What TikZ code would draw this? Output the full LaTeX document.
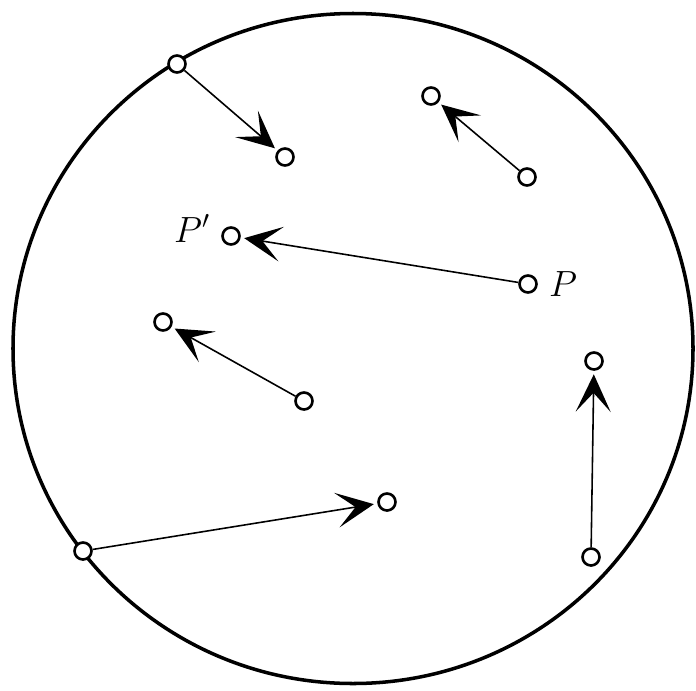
\documentclass[tikz,border=0pt]{standalone}
\usepackage{tikz}
\usetikzlibrary{arrows.meta, positioning}

\begin{document}
\begin{tikzpicture}[
  x=0.02cm, y=-0.02cm,
  pt/.style    = {circle, draw, line width=1.5pt, fill=white,
                  inner sep=0pt, minimum size=0.34cm},
  flow/.style  = {-{Stealth[length=7.5mm, width=7mm, inset=3.8mm]},
                  line width=0.9pt, shorten >=2pt},
  lbl/.style   = {font=\fontsize{20}{24}\selectfont}
]
\useasboundingbox (0,0) rectangle (696,690);

%% Boundary
\draw[line width=2pt] (353,348.5) ellipse [x radius=340, y radius=335];

%% Points
\node[pt] (a1) at (177,64) {};
\node[pt] (b1) at (285,157) {};
\node[pt] (a2) at (527,177) {};
\node[pt] (b2) at (431,96) {};
\node[pt] (p)  at (528,284) {};
\node[pt] (q)  at (231,236) {};
\node[pt] (a4) at (304,401) {};
\node[pt] (b4) at (163,322) {};
\node[pt] (a5) at (83,551) {};
\node[pt] (b5) at (387,502) {};
\node[pt] (a6) at (591,557) {};
\node[pt] (b6) at (594,361) {};

%% Arrows
\draw[flow] (a1) -- (b1);
\draw[flow] (a2) -- (b2);
\draw[flow] (p)  -- (q);
\draw[flow] (a4) -- (b4);
\draw[flow] (a5) -- (b5);
\draw[flow] (a6) -- (b6);

%% Labels
\node[lbl, right=0.1cm of p] (plbl) {$P$};
\node[lbl, left=0.1cm of q, yshift=0.15cm] (qlbl) {$P'$};

\end{tikzpicture}
\end{document}
